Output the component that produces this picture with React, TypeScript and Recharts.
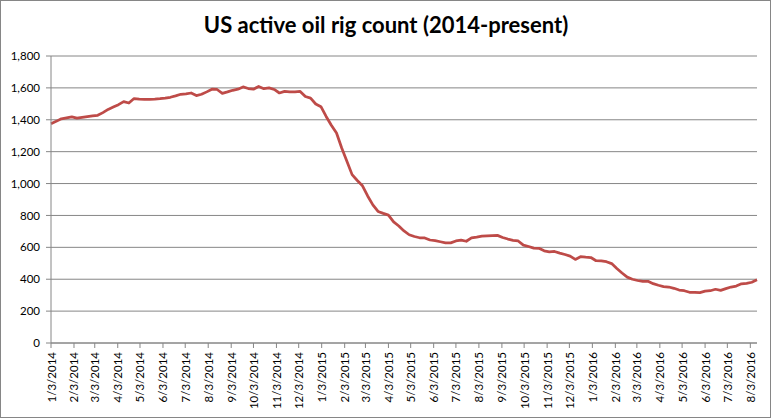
import React from "react";
import { CartesianGrid, Line, LineChart, XAxis, YAxis } from "recharts";

// weekly counts, Fridays, starting 1/3/2014
const rigs2014 = [
  1375, 1390, 1406, 1412, 1418, 1410, 1415, 1420, 1425, 1428,
  1445, 1465, 1480, 1495, 1514, 1505, 1533, 1530, 1528, 1528,
  1529, 1532, 1536, 1541, 1550, 1560, 1562, 1568, 1552, 1560,
  1575, 1592, 1590, 1566, 1575, 1585, 1592, 1606, 1596, 1592,
  1609, 1595, 1600, 1590, 1568, 1578, 1575, 1575, 1578, 1546,
  1536, 1499,
];
const rigs2015 = [
  1482, 1421, 1366, 1317, 1223, 1140, 1056, 1019, 986, 922,
  866, 825, 813, 802, 760, 734, 703, 679, 668, 660,
  659, 646, 642, 635, 628, 628, 640, 645, 638, 659,
  664, 670, 672, 674, 675, 662, 652, 644, 640, 614,
  605, 595, 594, 578, 572, 574, 564, 555, 545, 524,
  541, 538,
];
const rigs2016 = [
  536, 516, 515, 510, 498, 467, 439, 413, 400, 392,
  386, 387, 372, 362, 354, 351, 343, 332, 328, 318,
  318, 316, 325, 328, 337, 330, 341, 351, 357, 371,
  374, 381, 396,
];

const tickLabels = [
  "1/3/2014", "2/3/2014", "3/3/2014", "4/3/2014", "5/3/2014", "6/3/2014",
  "7/3/2014", "8/3/2014", "9/3/2014", "10/3/2014", "11/3/2014", "12/3/2014",
  "1/3/2015", "2/3/2015", "3/3/2015", "4/3/2015", "5/3/2015", "6/3/2015",
  "7/3/2015", "8/3/2015", "9/3/2015", "10/3/2015", "11/3/2015", "12/3/2015",
  "1/3/2016", "2/3/2016", "3/3/2016", "4/3/2016", "5/3/2016", "6/3/2016",
  "7/3/2016", "8/3/2016",
];

const yTicks = [0, 200, 400, 600, 800, 1000, 1200, 1400, 1600, 1800];

const START = Date.UTC(2014, 0, 3);
const DAY = 86400000;

function toDay(label: string) {
  const [m, d, y] = label.split("/").map(Number);
  return Math.round((Date.UTC(y, m - 1, d) - START) / DAY);
}

const rigs = [...rigs2014, ...rigs2015, ...rigs2016];
const data = rigs.map((count, i) => ({ day: i * 7, count }));
const xTicks = tickLabels.map(toDay);
const labelByDay: Record<number, string> = {};
tickLabels.forEach((l) => (labelByDay[toDay(l)] = l));

const FONT = "Lato, 'Liberation Sans', sans-serif";
const GRAY = "#868686";

function DateTick(props: any) {
  const { x, y, payload } = props;
  return (
    <text
      x={x}
      y={y}
      transform={`rotate(-90 ${x} ${y})`}
      textAnchor="end"
      dominantBaseline="central"
      fontSize={11.5}
      fontFamily={FONT}
      fill="#000"
    >
      {labelByDay[payload.value]}
    </text>
  );
}

export default function App() {
  return (
    <div
      style={{
        position: "absolute",
        left: 0,
        top: 0,
        width: 772,
        height: 419,
        background: "#fff",
        fontFamily: FONT,
      }}
    >
      <div
        style={{
          position: "absolute",
          left: 0,
          top: 0,
          width: 771,
          height: 418,
          boxSizing: "border-box",
          border: `1px solid ${GRAY}`,
        }}
      />
      <div
        style={{
          position: "absolute",
          top: 11,
          left: 0,
          width: 772,
          textAlign: "center",
          fontSize: 22,
          fontWeight: 700,
          color: "#000",
        }}
      >
        US active oil rig count (2014-present)
      </div>
      <LineChart
        width={772}
        height={419}
        data={data}
        margin={{ top: 56, right: 15, bottom: 0, left: 0 }}
      >
        <CartesianGrid vertical={false} stroke={GRAY} strokeOpacity={1} />
        <XAxis
          dataKey="day"
          type="number"
          domain={[0, 952]}
          ticks={xTicks}
          interval={0}
          height={76}
          tick={<DateTick />}
          tickSize={5}
          tickMargin={4}
          axisLine={{ stroke: GRAY }}
          tickLine={{ stroke: GRAY }}
        />
        <YAxis
          type="number"
          domain={[0, 1800]}
          ticks={yTicks}
          width={51}
          tickSize={5}
          tickMargin={6}
          tickFormatter={(v: number) => v.toLocaleString("en-US")}
          tick={{ fontSize: 11.5, fontFamily: FONT, fill: "#000" }}
          axisLine={{ stroke: GRAY }}
          tickLine={{ stroke: GRAY }}
        />
        <Line
          type="linear"
          dataKey="count"
          stroke="#BE4B48"
          strokeWidth={2.75}
          strokeLinejoin="round"
          dot={false}
          isAnimationActive={false}
        />
      </LineChart>
    </div>
  );
}
